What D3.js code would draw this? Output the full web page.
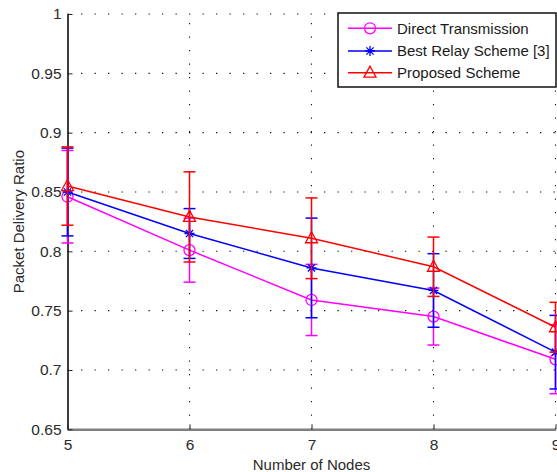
<!DOCTYPE html>
<html>
<head>
<meta charset="utf-8">
<script src="https://cdn.jsdelivr.net/npm/d3@7"></script>
<style>
  body { margin: 0; background: #fff; }
  svg { display: block; font-family: "Liberation Sans", Arial, sans-serif; }
</style>
</head>
<body>
<svg id="chart"></svg>
<script>
// Packet delivery ratio vs number of nodes
const nodes = [5, 6, 7, 8, 9];
const yTicks = [0.65, 0.7, 0.75, 0.8, 0.85, 0.9, 0.95, 1];
const yTickLabels = ["0.65", "0.7", "0.75", "0.8", "0.85", "0.9", "0.95", "1"];

const directPdr = [0.846, 0.801, 0.759, 0.745, 0.709];
const directErr = [0.039, 0.027, 0.030, 0.024, 0.029];
const relayPdr = [0.850, 0.815, 0.786, 0.767, 0.715];
const relayErr = [0.037, 0.021, 0.042, 0.031, 0.031];
const proposedPdr = [0.855, 0.829, 0.811, 0.787, 0.736];
const proposedErr = [0.033, 0.038, 0.034, 0.025, 0.021];

const seriesNames = ["Direct Transmission", "Best Relay Scheme [3]", "Proposed Scheme"];

const series = [
  { name: seriesNames[0], color: "#ff00ff", marker: "circle", vals: directPdr, err: directErr },
  { name: seriesNames[1], color: "#0000ff", marker: "star", vals: relayPdr, err: relayErr },
  { name: seriesNames[2], color: "#ff0000", marker: "triangle", vals: proposedPdr, err: proposedErr }
];

const W = 557, H = 472;
const svg = d3.select("#chart").attr("width", W).attr("height", H);

const x = d3.scaleLinear().domain([5, 9]).range([67.5, 555.5]);
const y = d3.scaleLinear().domain([0.65, 1]).range([429.3, 14]);

// dotted grid
const grid = svg.append("g")
  .attr("stroke", "#111")
  .attr("stroke-width", 1.1)
  .attr("stroke-dasharray", "1.3,12.2");

grid.selectAll("line.h")
  .data(yTicks.slice(1))
  .enter().append("line")
    .attr("x1", x(5)).attr("x2", x(9))
    .attr("y1", d => y(d)).attr("y2", d => y(d));

grid.selectAll("line.v")
  .data(nodes.slice(1))
  .enter().append("line")
    .attr("x1", d => x(d)).attr("x2", d => x(d))
    .attr("y1", y(0.65)).attr("y2", y(1));

// axes
const xAxis = d3.axisBottom(x).tickValues(nodes).tickFormat(d3.format("d"))
  .tickSizeInner(-5).tickSizeOuter(0).tickPadding(10);
const yAxis = d3.axisLeft(y).tickValues(yTicks).tickFormat((d, i) => yTickLabels[i])
  .tickSizeInner(-5).tickSizeOuter(0).tickPadding(6);

const gx = svg.append("g").attr("transform", `translate(0,${y(0.65)})`).call(xAxis);
gx.select(".domain").attr("stroke", "#808080").attr("stroke-width", 2.5);
gx.selectAll(".tick line").attr("stroke", "#222");
gx.selectAll(".tick text").attr("fill", "#2a2a2a").style("font-size", "15.5px");

const gy = svg.append("g").attr("transform", `translate(${x(5)},0)`).call(yAxis);
gy.select(".domain").attr("stroke", "#2a2a2a").attr("stroke-width", 1.8);
gy.selectAll(".tick line").attr("stroke", "#222");
gy.selectAll(".tick text").attr("fill", "#2a2a2a").style("font-size", "15.5px");

// axis titles
svg.append("text")
  .attr("x", x(7)).attr("y", 470)
  .attr("text-anchor", "middle")
  .attr("fill", "#2a2a2a")
  .style("font-size", "15px")
  .text("Number of Nodes");

svg.append("text")
  .attr("transform", `translate(24,${(y(0.65) + y(1)) / 2}) rotate(-90)`)
  .attr("text-anchor", "middle")
  .attr("fill", "#2a2a2a")
  .style("font-size", "15px")
  .text("Packet Delivery Ratio");

function drawMarker(g, type, color) {
  if (type === "circle") {
    g.append("circle").attr("r", 5.5).attr("fill", "none").attr("stroke", color).attr("stroke-width", 1.3);
  } else if (type === "triangle") {
    g.append("path").attr("d", "M0,-6.5L6,4.5L-6,4.5Z").attr("fill", "none").attr("stroke", color).attr("stroke-width", 1.3);
  } else {
    g.append("path").attr("d", "M-5,0H5M0,-5V5M-3.6,-3.6L3.6,3.6M-3.6,3.6L3.6,-3.6")
      .attr("stroke", color).attr("stroke-width", 1.3);
  }
}

const line = d3.line().x((d, i) => x(nodes[i])).y(d => y(d));

series.forEach(s => {
  const g = svg.append("g").attr("stroke", s.color).attr("stroke-width", 1.5);
  // error bars
  const eb = g.selectAll("g.eb")
    .data(s.vals.map((v, i) => ({ n: nodes[i], v, e: s.err[i] })))
    .enter().append("g");
  eb.append("line")
    .attr("x1", d => x(d.n)).attr("x2", d => x(d.n))
    .attr("y1", d => y(d.v - d.e)).attr("y2", d => y(d.v + d.e));
  eb.append("line")
    .attr("x1", d => x(d.n) - 6).attr("x2", d => x(d.n) + 6)
    .attr("y1", d => y(d.v + d.e)).attr("y2", d => y(d.v + d.e));
  eb.append("line")
    .attr("x1", d => x(d.n) - 6).attr("x2", d => x(d.n) + 6)
    .attr("y1", d => y(d.v - d.e)).attr("y2", d => y(d.v - d.e));
  // line
  g.append("path").datum(s.vals).attr("fill", "none").attr("d", line);
  // markers
  s.vals.forEach((v, i) => {
    const m = g.append("g").attr("transform", `translate(${x(nodes[i])},${y(v)})`);
    drawMarker(m, s.marker, s.color);
  });
});

// legend
const legend = svg.append("g").attr("transform", "translate(338,13)");
legend.append("rect")
  .attr("width", 218).attr("height", 74)
  .attr("fill", "#fff").attr("stroke", "#111").attr("stroke-width", 1.5);

const rows = legend.selectAll("g.row")
  .data(series)
  .enter().append("g")
    .attr("transform", (d, i) => `translate(0,${[15.3, 38, 59.7][i]})`);

rows.append("line")
  .attr("x1", 10).attr("x2", 54)
  .attr("stroke", d => d.color).attr("stroke-width", 1.5);
rows.each(function(d) {
  const m = d3.select(this).append("g").attr("transform", "translate(32,0)");
  drawMarker(m, d.marker, d.color);
});
rows.append("text")
  .attr("x", 59).attr("dy", "0.36em")
  .attr("fill", "#1a1a1a")
  .style("font-size", "15px")
  .text(d => d.name);
</script>
</body>
</html>
